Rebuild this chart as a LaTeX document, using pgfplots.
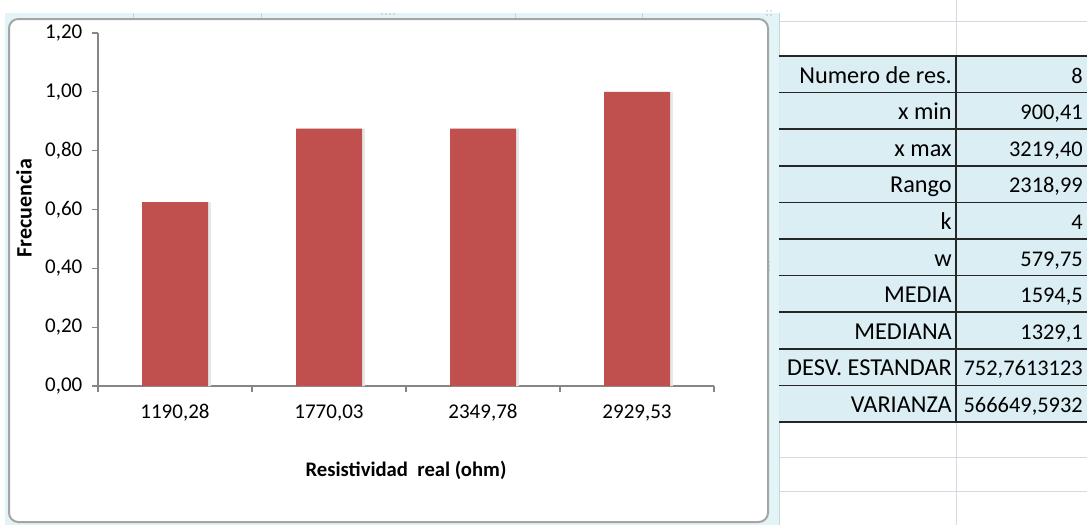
\documentclass[border=0pt]{standalone}
\usepackage{pgfplots}
\pgfplotsset{compat=1.18}
\usepackage{fontspec}
\setmainfont{Carlito}
\definecolor{barred}{HTML}{C0504D}
\definecolor{axgray}{HTML}{868686}
\definecolor{cellblue}{HTML}{DBEEF3}
\definecolor{gridc}{HTML}{D4D9E2}
\definecolor{selc}{HTML}{E2F4F5}
\definecolor{selline}{HTML}{BFD9DC}
\definecolor{chartb}{HTML}{A5A5A5}
\begin{document}
\begin{tikzpicture}
\begin{scope}[x=0.75pt,y=-0.75pt]
\path[use as bounding box] (0,0) rectangle (1087,525);
% spreadsheet grid lines
\draw[gridc, line width=0.75pt] (778,21) -- (1087,21);
\draw[gridc, line width=0.75pt] (956,0) -- (956,56);
\draw[gridc, line width=0.75pt] (956,422) -- (956,525);
\draw[gridc, line width=0.75pt] (778,457) -- (1087,457);
\draw[gridc, line width=0.75pt] (778,491) -- (1087,491);
% selection frame
\fill[selc] (5,13) rectangle (779,525);
\foreach \gx in {133,261,515,642} \draw[selline, line width=0.75pt] (\gx,13) -- (\gx,19);
\draw[selline, line width=0.75pt] (779,13) -- (779,525);
\fill[gray] (382,14) circle (0.6) (386,14) circle (0.6) (390,14) circle (0.6) (394,14) circle (0.6);
\fill[gray] (767,11) circle (0.6) (771,11) circle (0.6) (767,15) circle (0.6) (771,15) circle (0.6);
\fill[gray] (769,262) circle (0.6) (769,266) circle (0.6) (769,270) circle (0.6);
% chart area
\draw[chartb, fill=white, line width=1.5pt, rounded corners=7pt] (9,19) rectangle (768,522);
% table
\fill[cellblue] (779,56) rectangle (1087,422);
\foreach \i in {0,...,10} \draw[black!85, line width=1.1pt] (779,56+36.6*\i) -- (1087,56+36.6*\i);
\draw[black!85, line width=1.1pt] (956,56) -- (956,422);
\foreach \lab/\val [count=\i from 0] in {Numero de res./8, x min/{900,41}, x max/{3219,40}, Rango/{2318,99}, k/4, w/{579,75}, MEDIA/{1594,5}, MEDIANA/{1329,1}, DESV. ESTANDAR/{752,7613123}, VARIANZA/{566649,5932}} {
  \node[anchor=base east, inner sep=0pt, font=\fontsize{18.2}{21}\selectfont] at (952,56+36.6*\i+27) {\lab};
  \node[anchor=base east, inner sep=0pt, font=\fontsize{16.8}{20}\selectfont] at (1083,56+36.6*\i+27) {\val};
}
\end{scope}
\begin{axis}[
  at={(73.5pt,-289.5pt)}, anchor=south west,
  scale only axis, width=462pt, height=264.75pt,
  xmin=0.5, xmax=4.5, ymin=0, ymax=1.2,
  axis x line*=bottom, axis y line*=left,
  axis line style={axgray, line width=0.8pt},
  tick style={axgray, line width=0.8pt},
  tick align=outside,
  major tick length=4.5pt,
  ytick={0,0.2,0.4,0.6,0.8,1,1.2},
  yticklabel style={xshift=-3.75pt, /pgf/number format/.cd, fixed, fixed zerofill, precision=2, use comma},
  /pgf/number format/assume math mode=true,
  xtick={0.5,1.5,2.5,3.5,4.5},
  xticklabels={},
  extra x ticks={1,2,3,4},
  extra x tick labels={{1190,28},{1770,03},{2349,78},{2929,53}},
  extra x tick style={tick style={draw=none}, tick label style={anchor=base, yshift=-20.2pt}},
  tick label style={font=\fontsize{15.75}{19}\selectfont, black},
  xlabel={Resistividad\ \ real (ohm)},
  ylabel={Frecuencia},
  xlabel style={at={(axis description cs:0.5,-0.238)}, anchor=center, font=\bfseries\fontsize{15.5}{18}\selectfont},
  ylabel style={at={(axis description cs:-0.12,0.504)}, anchor=center, font=\bfseries\fontsize{16.5}{18}\selectfont},
  clip=false,
]
\addplot[ybar, bar width=49.5pt, bar shift=2.2pt, fill=black!9, draw=none] coordinates {(1,0.625) (2,0.875) (3,0.875) (4,1.0)};
\addplot[ybar, bar width=49.5pt, bar shift=0pt, fill=barred, draw=none] coordinates {(1,0.625) (2,0.875) (3,0.875) (4,1.0)};
\end{axis}
\end{tikzpicture}
\end{document}
